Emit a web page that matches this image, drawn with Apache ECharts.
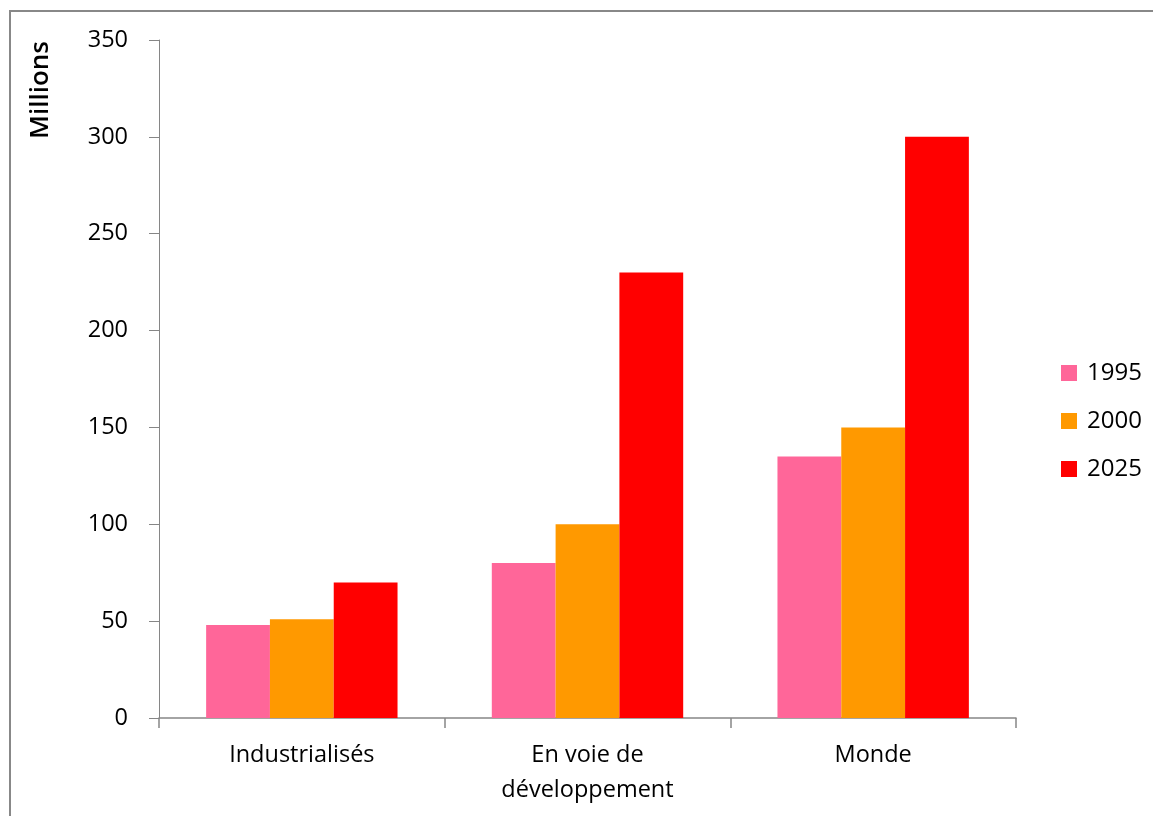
<!DOCTYPE html>
<html>
<head>
<meta charset="utf-8">
<script src="https://cdn.jsdelivr.net/npm/echarts@6/dist/echarts.min.js"></script>
<style>
html,body{margin:0;padding:0;background:#fff;overflow:hidden;}
#chart{width:1153px;height:816px;}
</style>
</head>
<body>
<div id="chart"></div>
<script>
const categories = ['Industrialisés', 'En voie de\ndéveloppement', 'Monde'];
const seriesNames = ['1995', '2000', '2025'];
const values1995 = [48, 80, 135];
const values2000 = [51, 100, 150];
const values2025 = [70, 230, 300];
const colors = ['#FF6699', '#FF9900', '#FF0000'];
const yTitle = 'Millions';

const FONT = '"Open Sans", Lato, sans-serif';
const chart = echarts.init(document.getElementById('chart'));
const allValues = [values1995, values2000, values2025];
chart.setOption({
  animation: false,
  backgroundColor: '#fff',
  textStyle: { fontFamily: FONT },
  grid: { left: 159, right: 137, top: 40, bottom: 98, containLabel: false },
  legend: {
    orient: 'vertical',
    left: 1056,
    top: 356,
    itemWidth: 16,
    itemHeight: 16,
    itemGap: 24,
    icon: 'rect',
    data: seriesNames,
    textStyle: { fontFamily: FONT, fontSize: 24, color: '#000', lineHeight: 24, padding: [0, 0, 0, 5] }
  },
  xAxis: {
    type: 'category',
    data: categories,
    axisLine: { lineStyle: { color: '#868686', width: 1.5 } },
    axisTick: { show: true, length: 10, alignWithLabel: false, lineStyle: { color: '#868686', width: 1.5 } },
    axisLabel: { fontFamily: FONT, fontSize: 23.5, color: '#000', lineHeight: 35, margin: 20 },
    splitLine: { show: false }
  },
  yAxis: {
    type: 'value',
    min: 0, max: 350, interval: 50,
    axisLine: { show: true, lineStyle: { color: '#868686', width: 1 } },
    axisTick: { show: true, length: 10, lineStyle: { color: '#868686', width: 1 } },
    axisLabel: { fontFamily: FONT, fontSize: 23.5, color: '#000', margin: 31 },
    splitLine: { show: false }
  },
  series: seriesNames.map((n, i) => ({
    name: n,
    type: 'bar',
    data: allValues[i],
    itemStyle: { color: colors[i] },
    barGap: '0%',
    barCategoryGap: '33%'
  })),
  graphic: [
    { type: 'rect', silent: true, z: -1, shape: { x: 10, y: 11, width: 1300, height: 1000 },
      style: { fill: 'none', stroke: '#888', lineWidth: 2 } },
    { type: 'text', x: 41, y: 90, rotation: Math.PI / 2,
      style: { text: yTitle, font: '600 26px ' + FONT, fill: '#000', textAlign: 'center', textVerticalAlign: 'middle' } }
  ]
});
</script>
</body>
</html>
